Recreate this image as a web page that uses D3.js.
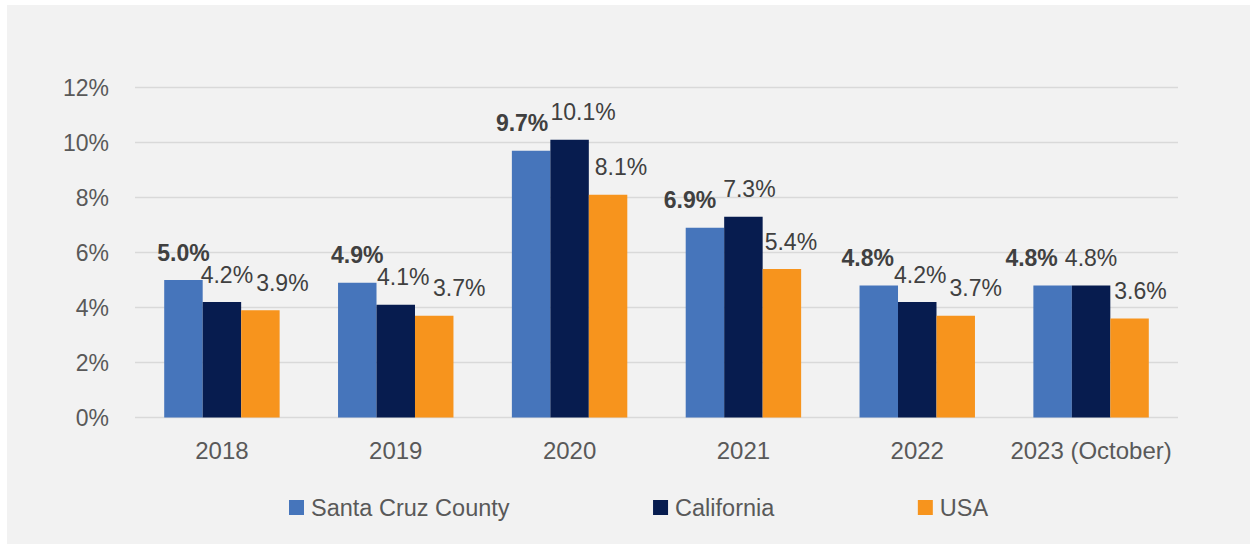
<!DOCTYPE html>
<html>
<head>
<meta charset="utf-8">
<script src="https://cdn.jsdelivr.net/npm/d3@7"></script>
<style>
  body { margin: 0; background: #fff; }
  text { font-family: "Liberation Sans", Arial, sans-serif; }
</style>
</head>
<body>
<div id="chart"></div>
<script>
// data
const years = ["2018", "2019", "2020", "2021", "2022", "2023 (October)"];
const seriesNames = ["Santa Cruz County", "California", "USA"];
const santaCruz = [5.0, 4.9, 9.7, 6.9, 4.8, 4.8];
const california = [4.2, 4.1, 10.1, 7.3, 4.2, 4.8];
const usa = [3.9, 3.7, 8.1, 5.4, 3.7, 3.6];
const yTicks = [0, 2, 4, 6, 8, 10, 12];

const colors = ["#4675bb", "#071c4f", "#f7941d"];
const allSeries = [santaCruz, california, usa];

// sizes
const W = 1250, H = 545;
const plot = {left: 135, right: 1178, top: 87.5, bottom: 417.5};

const svg = d3.select("#chart")
    .append("svg")
    .attr("width", W)
    .attr("height", H);

// light grey panel
svg.append("rect")
    .attr("x", 7).attr("y", 5)
    .attr("width", W - 7).attr("height", H - 6)
    .attr("fill", "#f2f2f2");

const x = d3.scaleBand()
    .domain(years)
    .range([plot.left, plot.right])
    .paddingInner(0.336)
    .paddingOuter(0.168);

const xSeries = d3.scaleBand()
    .domain(seriesNames)
    .range([0, x.bandwidth()]);

const y = d3.scaleLinear()
    .domain([0, 12])
    .range([plot.bottom, plot.top]);

// gridlines
svg.append("g")
    .selectAll("line")
    .data(yTicks)
    .join("line")
    .attr("x1", plot.left)
    .attr("x2", plot.right)
    .attr("y1", d => y(d))
    .attr("y2", d => y(d))
    .attr("stroke", "#d9d9d9")
    .attr("stroke-width", 1.5);

// y axis labels
const yAxis = svg.append("g")
    .attr("transform", `translate(${plot.left - 26},0)`)
    .call(d3.axisLeft(y).tickValues(yTicks).tickSize(0).tickPadding(0).tickFormat(d => d + "%"));
yAxis.select(".domain").remove();
yAxis.selectAll("text")
    .attr("fill", "#595959")
    .style("font-size", "23px")
    .attr("dy", "0.36em");

// x axis labels
const xAxis = svg.append("g")
    .attr("transform", `translate(0,${plot.bottom})`)
    .call(d3.axisBottom(x).tickSize(0).tickPadding(24));
xAxis.select(".domain").remove();
xAxis.selectAll("text")
    .attr("fill", "#595959")
    .style("font-size", "24px")
    .attr("dy", "0.71em");

// flatten into rows for drawing
const rows = [];
years.forEach((yr, i) => {
    seriesNames.forEach((s, j) => {
        rows.push({year: yr, series: s, si: j, yi: i, value: allSeries[j][i]});
    });
});

// bars
svg.append("g")
    .selectAll("rect")
    .data(rows)
    .join("rect")
    .attr("x", d => x(d.year) + xSeries(d.series))
    .attr("y", d => y(d.value))
    .attr("width", xSeries.bandwidth())
    .attr("height", d => y(0) - y(d.value))
    .attr("fill", d => colors[d.si]);

// labels were hand-placed in the source, nudge them the same way
const labelNudge = [
    [0, 5, 22], [0, 7.5, 25], [-9, 13.5, 13],
    [-15, 6, 9], [-11, 3, 20], [-21, 0, 11]
];

svg.append("g")
    .selectAll("text")
    .data(rows)
    .join("text")
    .attr("x", d => x(d.year) + xSeries(d.series) + xSeries.bandwidth() / 2 + labelNudge[d.yi][d.si])
    .attr("y", d => y(d.value) - 19.5)
    .attr("text-anchor", "middle")
    .attr("fill", "#404040")
    .style("font-size", "23px")
    .style("font-weight", d => d.si == 0 ? "bold" : "normal")
    .text(d => d.value.toFixed(1) + "%");

// legend
const legend = svg.append("g");
let lx = 289;
seriesNames.forEach((name, i) => {
    legend.append("rect")
        .attr("x", lx).attr("y", 500)
        .attr("width", 15).attr("height", 15)
        .attr("fill", colors[i]);
    const t = legend.append("text")
        .attr("x", lx + 22)
        .attr("y", 516)
        .attr("fill", "#595959")
        .style("font-size", "23.5px")
        .text(name);
    lx += 22 + t.node().getComputedTextLength() + 143.5;
});
</script>
</body>
</html>
